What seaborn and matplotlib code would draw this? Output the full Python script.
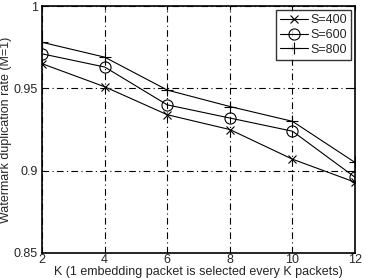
import numpy as np
import pandas as pd
import matplotlib
matplotlib.use("Agg")
import matplotlib.pyplot as plt
import seaborn as sns

k = [2, 4, 6, 8, 10, 12]
s400 = [0.965, 0.951, 0.934, 0.925, 0.907, 0.893]
s600 = [0.971, 0.963, 0.940, 0.932, 0.924, 0.896]
s800 = [0.978, 0.969, 0.949, 0.939, 0.930, 0.905]
series = ["S=400", "S=600", "S=800"]
markers = ["x", "o", "+"]
msizes = [6, 8, 9]

sns.set_style("white")
plt.rcParams['font.family'] = ['Liberation Sans', 'DejaVu Sans']

fig = plt.figure(figsize=(3.66, 2.78), dpi=100)
ax = fig.add_axes([0.115, 0.09, 0.855, 0.888])

for name, vals, m, ms in zip(series, [s400, s600, s800], markers, msizes):
    sns.lineplot(x=k, y=vals, ax=ax, color="black", marker=m, label=name,
                 markersize=ms, linewidth=0.8,
                 markerfacecolor="none", markeredgecolor="black",
                 markeredgewidth=0.8)

ax.set_xlim(2, 12)
ax.set_ylim(0.85, 1)
ax.set_xticks(k)
ax.set_yticks([0.85, 0.9, 0.95, 1])
ax.set_yticklabels(["0.85", "0.9", "0.95", "1"])
ax.grid(True, color="black", linestyle=(0, (6, 3, 1, 3)), linewidth=0.8)
ax.tick_params(direction="in", labelsize=9, length=3, color="black",
               top=True, right=True)
ax.tick_params(axis="x", pad=1)
ax.tick_params(axis="y", pad=3)
for sp in ax.spines.values():
    sp.set_color("black")
    sp.set_linewidth(1.2)

ax.set_xlabel("K (1 embedding packet is selected every K packets)", fontsize=9, labelpad=0)
ax.set_ylabel("Watermark duplication rate (M=1)", fontsize=9, labelpad=1)

leg = ax.legend(loc="upper right", fontsize=9, frameon=True, fancybox=False,
                edgecolor="black", handlelength=2.2, borderpad=0.35,
                labelspacing=0.22, handletextpad=0.2, borderaxespad=0.3)
leg.get_frame().set_linewidth(1.0)

fig.savefig("out.png", dpi=100)
